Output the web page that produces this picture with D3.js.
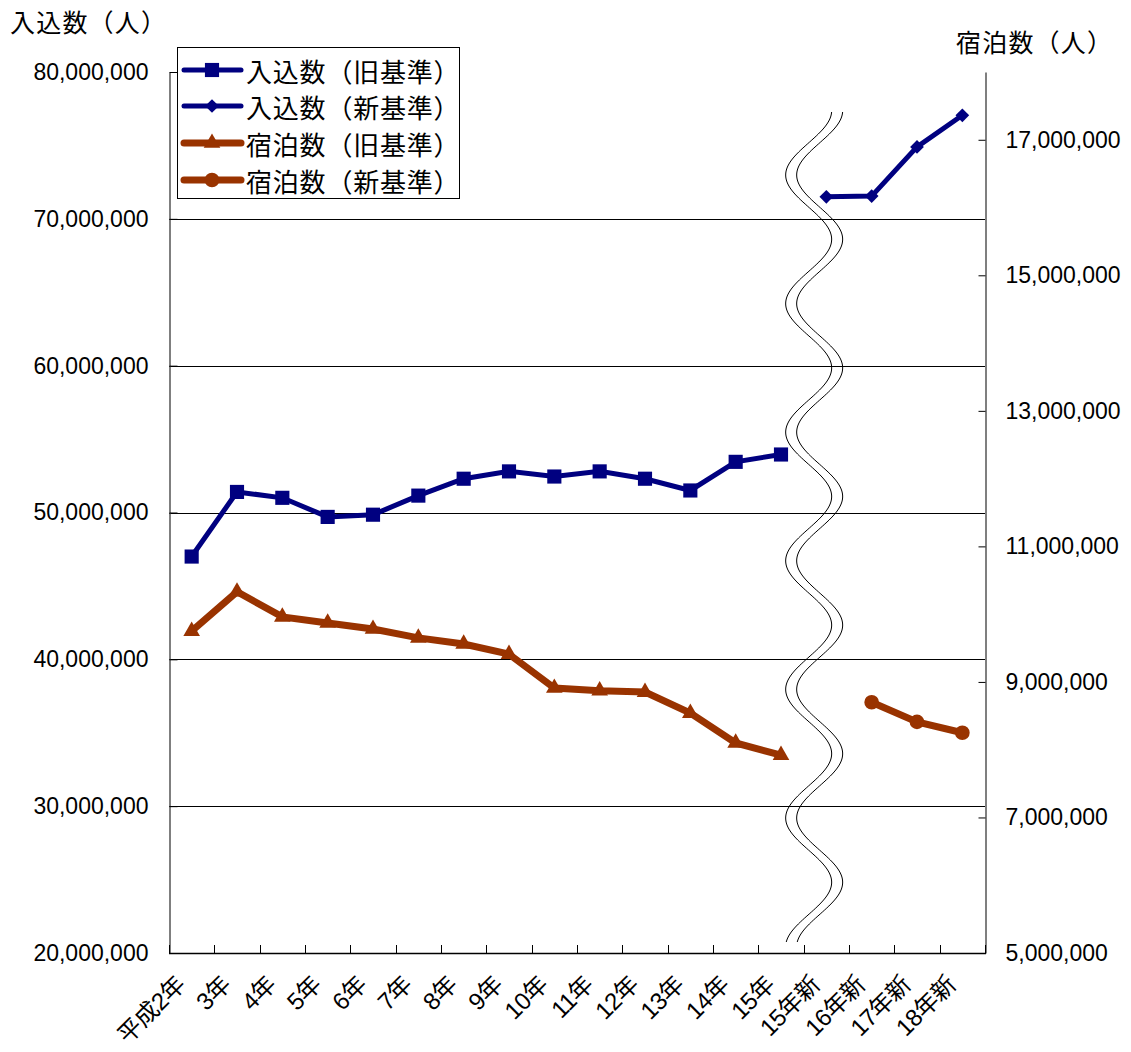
<!DOCTYPE html>
<html>
<head>
<meta charset="utf-8">
<script src="https://cdn.jsdelivr.net/npm/d3@7"></script>
<style>
  html, body { margin: 0; padding: 0; background: #fff; }
  svg { display: block; }
  text { fill: #000; }
</style>
</head>
<body>
<svg id="chart" width="1131" height="1052"></svg>
<script>
// ---- data ----
const categories = ["平成2年","3年","4年","5年","6年","7年","8年","9年","10年","11年","12年","13年","14年","15年","15年新","16年新","17年新","18年新"];
const inboundOld = [47000000,51400000,51000000,49700000,49850000,51150000,52300000,52800000,52450000,52800000,52300000,51500000,53450000,53950000,null,null,null,null];
const inboundNew = [null,null,null,null,null,null,null,null,null,null,null,null,null,null,71500000,71550000,74900000,77050000];
const stayOld = [9750000,10330000,9960000,9870000,9780000,9650000,9560000,9410000,8910000,8870000,8850000,8540000,8100000,7920000,null,null,null,null];
const stayNew = [null,null,null,null,null,null,null,null,null,null,null,null,null,null,null,8700000,8410000,8250000];
const leftTicks = [20000000,30000000,40000000,50000000,60000000,70000000,80000000];
const rightTicks = [5000000,7000000,9000000,11000000,13000000,15000000,17000000];
const legendLabels = ["入込数（旧基準）","入込数（新基準）","宿泊数（旧基準）","宿泊数（新基準）"];
const leftTitle = "入込数（人）";
const rightTitle = "宿泊数（人）";

// ---- layout ----
const L = 169, R = 985, T = 72, B = 953;
const NAVY = "#000080", BROWN = "#993300";
const NUMFONT = "'Liberation Sans', Arial, sans-serif";
const JPFONT = "'Noto Sans CJK JP', sans-serif";

const svg = d3.select("#chart");
const x = d3.scaleBand().domain(categories).range([L, R]).padding(0);
const yL = d3.scaleLinear().domain([20000000, 80000000]).range([B, T]);
const yR = d3.scaleLinear().domain([5000000, 18000000]).range([B, T]);
const cx = c => x(c) + x.bandwidth() / 2;
const fmt = d3.format(",");

// gridlines
svg.append("g").selectAll("line").data(leftTicks.filter(v => v > 20000000 && v < 80000000))
  .join("line")
  .attr("x1", L).attr("x2", R)
  .attr("y1", d => Math.round(yL(d)) + 0.5).attr("y2", d => Math.round(yL(d)) + 0.5)
  .attr("stroke", "#000").attr("stroke-width", 1);

// left axis
const gL = svg.append("g").attr("transform", `translate(${L + 0.5},0)`)
  .call(d3.axisLeft(yL).tickValues(leftTicks).tickFormat(fmt).tickSizeInner(-8).tickSizeOuter(0).tickPadding(21));
gL.selectAll("text").attr("font-family", NUMFONT).attr("font-size", 23).attr("fill", "#000");
gL.select(".domain").attr("stroke", "#555").attr("stroke-width", 1.5);

// right axis
const gR = svg.append("g").attr("transform", `translate(${R + 0.5},0)`)
  .call(d3.axisRight(yR).tickValues(rightTicks).tickFormat(fmt).tickSizeInner(-7).tickSizeOuter(0).tickPadding(20));
gR.selectAll("text").attr("font-family", NUMFONT).attr("font-size", 23).attr("fill", "#000");
gR.select(".domain").attr("stroke", "#555").attr("stroke-width", 1.5);

// x axis
svg.append("line").attr("x1", L).attr("x2", R + 1).attr("y1", B + 0.5).attr("y2", B + 0.5)
  .attr("stroke", "#000").attr("stroke-width", 1.5);
const bounds = categories.map(c => x(c)).concat([R]);
svg.append("g").selectAll("line").data(bounds).join("line")
  .attr("x1", d => Math.round(d) + 0.5).attr("x2", d => Math.round(d) + 0.5)
  .attr("y1", B).attr("y2", B - 8).attr("stroke", "#000");
svg.append("g").selectAll("text").data(categories).join("text")
  .attr("transform", d => `translate(${cx(d) - 11},${980}) rotate(-45)`)
  .attr("text-anchor", "end").attr("dominant-baseline", "central")
  .attr("font-family", "'Liberation Sans','Noto Sans CJK JP',sans-serif").attr("font-size", 24)
  .attr("letter-spacing", -0.5)
  .text(d => d);

// break wave decoration between the old and new series
const breakX = x("15年新");
const waveCenter = breakX + 5, amp = 23, period = 128.6, y0 = 175;
[0, 11].forEach(off => {
  const pts = d3.range(112, 944, 2).map(yy => [waveCenter + off - amp * Math.cos(2 * Math.PI * (yy - y0) / period), yy]);
  svg.append("path").attr("d", d3.line()(pts)).attr("fill", "none").attr("stroke", "#000").attr("stroke-width", 1);
});

// series
const series = [
  { vals: inboundOld, scale: yL, color: NAVY, width: 5, sym: d3.symbolSquare, size: 200 },
  { vals: inboundNew, scale: yL, color: NAVY, width: 5, sym: d3.symbolDiamond2, size: 120 },
  { vals: stayOld, scale: yR, color: BROWN, width: 7, sym: d3.symbolTriangle, size: 120 },
  { vals: stayNew, scale: yR, color: BROWN, width: 7, sym: d3.symbolCircle, size: 170 },
];
series.forEach(s => {
  const pts = categories.map((c, i) => ({ c, v: s.vals[i] })).filter(p => p.v != null);
  const line = d3.line().x(p => cx(p.c)).y(p => s.scale(p.v));
  svg.append("path").datum(pts).attr("d", line).attr("fill", "none")
    .attr("stroke", s.color).attr("stroke-width", s.width).attr("stroke-linejoin", "miter");
  svg.append("g").selectAll("path").data(pts).join("path")
    .attr("transform", p => `translate(${cx(p.c)},${s.scale(p.v)})`)
    .attr("d", d3.symbol().type(s.sym).size(s.size)).attr("fill", s.color);
});

// legend
const lg = svg.append("g");
lg.append("rect").attr("x", 177.5).attr("y", 47.5).attr("width", 282).attr("height", 151)
  .attr("fill", "#fff").attr("stroke", "#000").attr("stroke-width", 1);
const rowsY = [70, 106, 143, 180];
series.forEach((s, i) => {
  lg.append("line").attr("x1", 184).attr("x2", 241).attr("y1", rowsY[i]).attr("y2", rowsY[i])
    .attr("stroke", s.color).attr("stroke-width", s.width).attr("stroke-linecap", "round");
  lg.append("path").attr("transform", `translate(212,${rowsY[i]})`)
    .attr("d", d3.symbol().type(s.sym).size(s.size)).attr("fill", s.color);
  lg.append("text").attr("x", 246).attr("y", rowsY[i]).attr("dominant-baseline", "central")
    .attr("font-family", JPFONT).attr("font-size", 26).attr("letter-spacing", 0.8).text(legendLabels[i]);
});

// titles
svg.append("text").attr("x", 10).attr("y", 21).attr("dominant-baseline", "central")
  .attr("font-family", JPFONT).attr("font-size", 25).attr("letter-spacing", 1.2).text(leftTitle);
svg.append("text").attr("x", 956).attr("y", 41).attr("dominant-baseline", "central")
  .attr("font-family", JPFONT).attr("font-size", 25).attr("letter-spacing", 1.2).text(rightTitle);
</script>
</body>
</html>
